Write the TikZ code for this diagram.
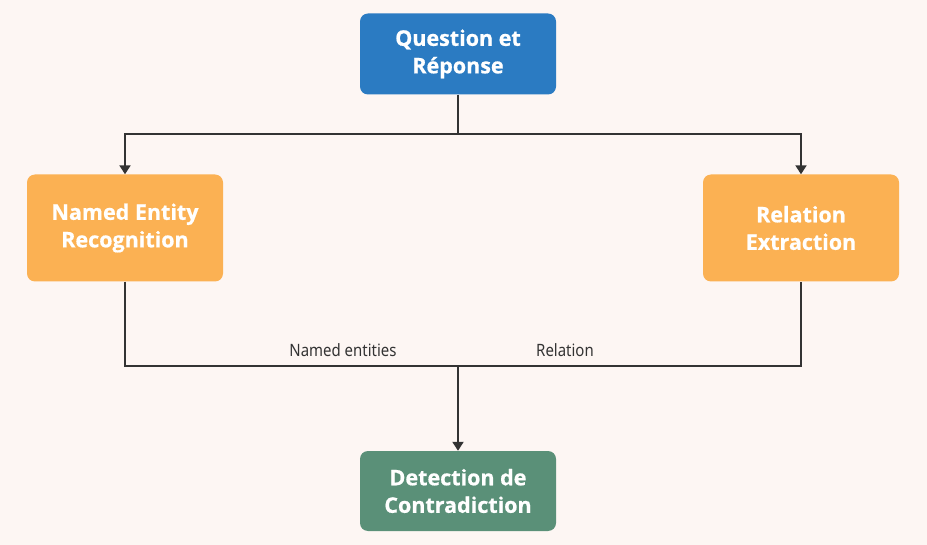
\documentclass[tikz,border=0pt]{standalone}
\usepackage{fontspec}
\setmainfont{Open Sans}[BoldFeatures={FakeBold=0.7}]
\newfontfamily\labfont{Noto Sans}
\usetikzlibrary{arrows.meta}
\definecolor{bgc}{HTML}{FDF6F3}
\definecolor{qblue}{HTML}{2B7BC2}
\definecolor{norange}{HTML}{FBB153}
\definecolor{dgreen}{HTML}{5A9078}
\definecolor{linec}{HTML}{333333}
\tikzset{
  box/.style={rounded corners=8pt, minimum width=196pt, text=white,
    font=\fontsize{21.5}{27.5}\selectfont\bfseries, align=center, inner sep=0pt},
  conn/.style={draw=linec, line width=2pt},
  arr/.style={conn, -{Triangle[length=9pt,width=11pt]}},
  lab/.style={font=\labfont\fontsize{17}{19}\selectfont, text=linec, inner sep=0pt, xscale=0.88}
}
\begin{document}
\begin{tikzpicture}[x=1pt,y=-1pt]
\fill[bgc] (0,0) rectangle (927,545);
\useasboundingbox (0,0) rectangle (927,545);
\node[box, fill=qblue, minimum height=81pt] (qr) at (458,54) {Question et\\Réponse};
\node[box, fill=norange, minimum height=107pt] (ner) at (125,228) {Named Entity\\Recognition};
\node[box, fill=norange, minimum height=107pt] (re) at (801,228) {Relation\\Extraction};
\node[box, fill=dgreen, minimum height=80pt] (dc) at (458,491) {Detection de\\Contradiction};
\coordinate (top) at (458,134);
\coordinate (bot) at (458,366);
\draw[conn] (qr.south) -- (top);
\draw[arr] (top) -| (ner.north);
\draw[arr] (top) -| (re.north);
\draw[conn] (ner.south) |- (bot) -| (re.south);
\draw[arr] (bot) -- (dc.north);
\node[lab, anchor=base] (l1) at (343,357) {Named entities};
\node[lab, anchor=base] (l2) at (565,357) {Relation};
\end{tikzpicture}
\end{document}
